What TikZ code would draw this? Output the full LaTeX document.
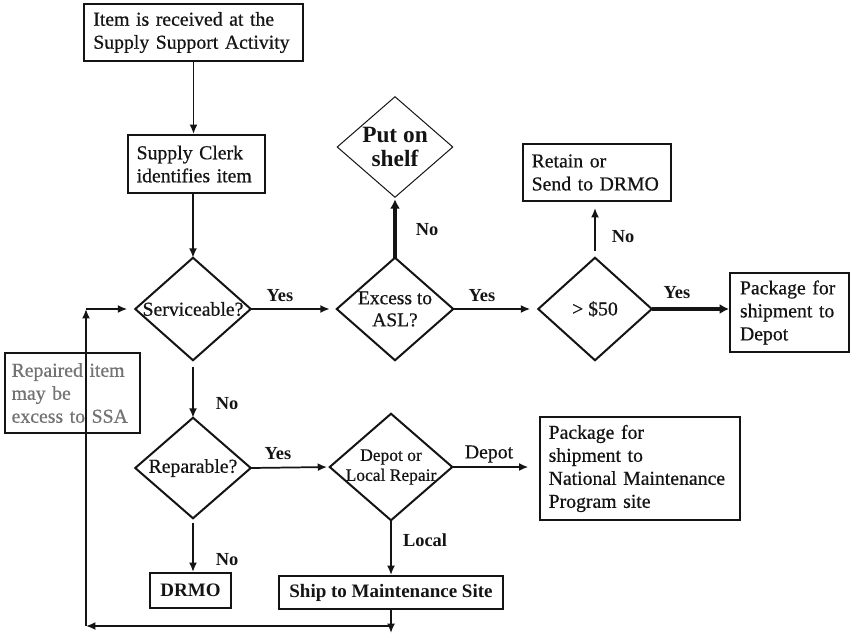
\documentclass[tikz,border=0pt]{standalone}
\usepackage{fontspec}
\setmainfont{Liberation Serif}
\newfontfamily\txt{Liberation Serif}[FakeBold=0.6]
\usetikzlibrary{arrows.meta}
\definecolor{ink}{RGB}{20,20,20}
\definecolor{notegray}{RGB}{115,115,115}
\begin{document}
\begin{tikzpicture}[x=0.75pt,y=-0.75pt,
  every node/.style={font=\txt\fontsize{14.8}{17.25}\selectfont, text=ink},
  box/.style={draw=ink, line width=1.5pt, inner ysep=0pt, align=left},
  cbox/.style={draw=ink, line width=1.5pt, inner sep=0pt, align=center, font=\normalfont\bfseries\fontsize{14.25}{17}\selectfont},
  dia/.style={inner sep=0pt, align=center},
  dline/.style={draw=ink, line width=1.5pt, line join=miter},
  arr/.style={draw=ink, line width=1.3pt, -{Latex[length=7pt,width=6pt]}},
  thickarr/.style={draw=ink, line width=3.4pt, -{Latex[length=7pt,width=7.5pt]}},
  lbl/.style={font=\normalfont\bfseries\fontsize{13.8}{16}\selectfont},
]
\useasboundingbox (0,0) rectangle (853,635);

% boxes
\node[box, minimum width=164.25pt, minimum height=42.75pt, inner xsep=7pt, text width=150.25pt] (recv) at (193.5,32.5)
  {Item is received at the\\Supply Support Activity};
\node[box, minimum width=102.75pt, minimum height=43.5pt, inner xsep=6.5pt, text width=89.75pt] (clerk) at (196.5,164)
  {Supply Clerk\\identifies item};
\node[box, minimum width=111pt, minimum height=42.75pt, inner xsep=6.5pt, text width=98pt] (retain) at (597,172.5)
  {Retain or\\Send to DRMO};
\node[box, minimum width=89.25pt, minimum height=59.25pt, inner xsep=7.5pt, text width=74.25pt] (pkg) at (789.5,312.5)
  {Package for\\shipment to\\Depot};
\node[box, minimum width=150pt, minimum height=77.25pt, inner xsep=6.5pt, text width=137pt] (nmp) at (640,468.5)
  {Package for\\shipment to\\National Maintenance\\Program site};
\node[box, text=notegray, minimum width=101.25pt, minimum height=60pt, inner xsep=5pt, text width=91.25pt] (note) at (72.5,393)
  {Repaired item\\may be\\excess to SSA};
\node[cbox, minimum width=168pt, minimum height=24.75pt] (ship) at (391,592.5) {Ship to Maintenance Site};
\node[cbox, minimum width=60.75pt, minimum height=26.25pt] (drmo) at (190.5,590.5) {DRMO};

% decision diamonds (text nodes, outlines drawn below)
\node[dia, minimum width=86.25pt, minimum height=76.5pt] (serv) at (193,309) {Serviceable?};
\node[dia, minimum width=87pt, minimum height=76.5pt, font=\txt\fontsize{14.6}{16.5}\selectfont] (exc) at (395,309) {Excess to\\ASL?};
\node[dia, minimum width=84.75pt, minimum height=76.5pt] (fifty) at (595,309) {> \$50};
\node[dia, minimum width=86.25pt, minimum height=75pt, font=\normalfont\bfseries\fontsize{17.5}{18}\selectfont] (put) at (395,147) {Put on\\shelf};
\node[dia, minimum width=86.25pt, minimum height=75pt] (rep) at (193,468) {Reparable?};
\node[dia, minimum width=91.5pt, minimum height=79.5pt, font=\txt\fontsize{13.1}{15}\selectfont] (dep) at (391,467) {Depot or\\Local Repair};

\foreach \n in {serv,exc,fifty,rep,dep}
  \draw[dline] (\n.north) -- (\n.east) -- (\n.south) -- (\n.west) -- cycle;
\draw[draw=ink, line width=0.75pt] (put.north) -- (put.east) -- (put.south) -- (put.west) -- cycle;

% free ends of the return loop
\coordinate (shipend) at (391,633);
\coordinate (br) at (390,626);
\coordinate (bl) at (86,626);
\coordinate (tl) at (86,309);

% connectors
\draw[arr] (recv.south) -- (recv.south |- clerk.north);
\draw[arr] (serv.north |- clerk.south) -- (serv.north);
\draw[arr, shorten >=5.25pt] (serv.east) -- (exc.west);
\draw[thickarr, shorten >=1.5pt] (exc.north) -- (put.south);
\draw[arr, shorten >=6pt] (exc.east) -- (fifty.west);
\draw[arr, shorten <=5.25pt, shorten >=4.5pt] (fifty.north) -- (fifty.north |- retain.south);
\draw[thickarr] (fifty.east) -- (fifty.east -| pkg.west);
\draw[arr, shorten <=5.25pt] (serv.south) -- (rep.north);
\draw[arr, shorten >=2pt] (rep.east) -- (dep.west);
\draw[arr, shorten <=3.75pt] (rep.south) -- (rep.south |- drmo.north);
\draw[arr, shorten >=8pt] (dep.east) -- (dep.east -| nmp.west);
\draw[arr] (dep.south) -- (dep.south |- ship.north);
\draw[arr] (ship.south) -- (shipend);
\draw[arr] (br) -- (bl);
\draw[arr] (bl) -- (tl);
\draw[arr, shorten >=6pt] (tl) -- (serv.west);

% labels
\node[lbl] (y1) at (280,296) {Yes};
\node[lbl] (y2) at (482,296) {Yes};
\node[lbl] (n1) at (427,230) {No};
\node[lbl] (n2) at (623,237) {No};
\node[lbl] (y3) at (677,293) {Yes};
\node[lbl] (n3) at (227,404) {No};
\node[lbl] (y4) at (278,454) {Yes};
\node (dl) at (489,454) {Depot};
\node[lbl] (loc) at (425,540) {Local};
\node[lbl] (n4) at (227,560) {No};
\end{tikzpicture}
\end{document}
